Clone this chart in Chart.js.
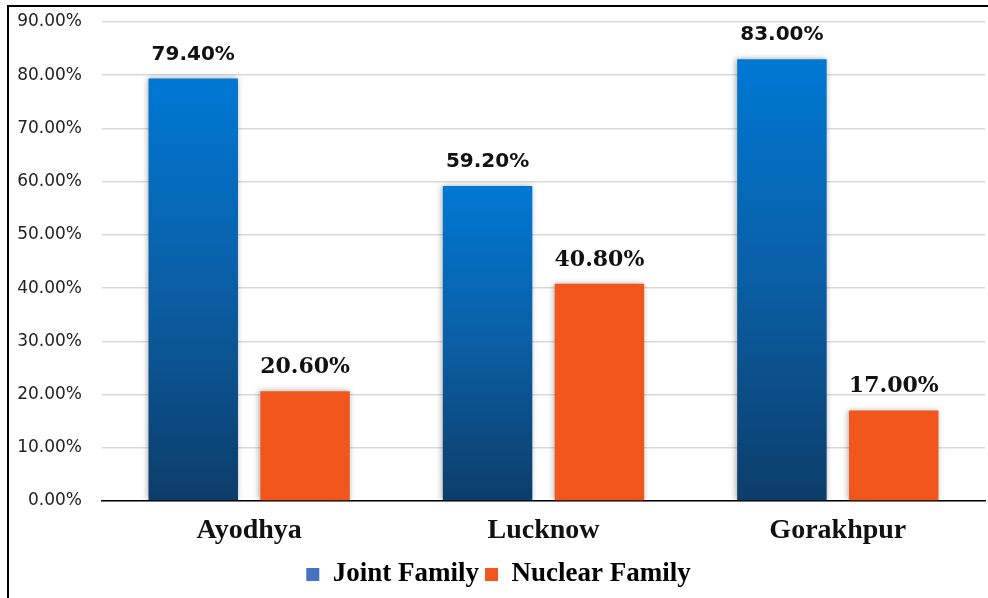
<!DOCTYPE html>
<html>
<head>
<meta charset="utf-8">
<script src="https://cdn.jsdelivr.net/npm/chart.js@4.4.1/dist/chart.umd.min.js"></script>
<style>
  html, body { margin: 0; padding: 0; background: #fff; }
  #wrap { position: relative; width: 988px; height: 598px; overflow: hidden; }
  #frame { position: absolute; left: 7px; top: 5px; width: 1000px; height: 620px;
           border-left: 2px solid #000; border-top: 2px solid #000; }
</style>
</head>
<body>
<div id="wrap">
  <canvas id="familyChart" width="988" height="598"></canvas>
  <div id="frame"></div>
</div>
<script>

    const cities = ["Ayodhya", "Lucknow", "Gorakhpur"];
    const jointFamily = [79.4, 59.2, 83.0];
    const nuclearFamily = [20.6, 40.8, 17.0];
    const yTicks = [0, 10, 20, 30, 40, 50, 60, 70, 80, 90];

    const serifBold = "'Liberation Serif', 'Times New Roman', serif";

    function blueGradient(ctx) {
        const chart = ctx.chart;
        const area = chart.chartArea;
        if (!area || ctx.type !== "data") return "#0078d4";
        const top = chart.scales.y.getPixelForValue(ctx.parsed.y);
        const g = chart.ctx.createLinearGradient(0, top, 0, area.bottom);
        g.addColorStop(0, "#0078d4");
        g.addColorStop(0.5, "#0a5ea4");
        g.addColorStop(1, "#0c3d6a");
        return g;
    }

    // bar shadow + value labels above the bars
    const barExtras = {
        id: "barExtras",
        beforeDatasetsDraw(chart) {
            const c = chart.ctx;
            c.save();
            c.shadowColor = "rgba(0,0,0,0.35)";
            c.shadowBlur = 6;
            c.shadowOffsetX = -1;
        },
        afterDatasetsDraw(chart) {
            const c = chart.ctx;
            c.restore();
            c.save();
            c.textAlign = "center";
            c.textBaseline = "middle";
            c.fillStyle = "#111";
            chart.data.datasets.forEach((ds, i) => {
                const meta = chart.getDatasetMeta(i);
                c.font = i === 0 ? "bold 20px 'DejaVu Sans', sans-serif"
                                 : "bold 22px 'DejaVu Serif', serif";
                meta.data.forEach((bar, j) => {
                    c.fillText(ds.data[j].toFixed(2) + "%", bar.x, bar.y - 24);
                });
            });
            c.restore();
        }
    };

    const chart = document.getElementById("familyChart");

    new Chart(chart, {
        type: "bar",
        data: {
            labels: cities,
            datasets: [{
                label: "Joint Family",
                data: jointFamily,
                backgroundColor: blueGradient,
                barPercentage: 0.8,
                categoryPercentage: 0.76
            }, {
                label: "Nuclear Family",
                data: nuclearFamily,
                backgroundColor: "#f1571d",
                barPercentage: 0.8,
                categoryPercentage: 0.76
            }]
        },
        options: {
            responsive: false,
            animation: false,
            layout: { padding: { left: 12, top: 22, right: 3, bottom: 0 } },
            scales: {
                y: {
                    min: 0,
                    max: 90,
                    afterFit: s => { s.width = 90; s.paddingTop = 0; s.paddingBottom = 0; },
                    afterBuildTicks: s => { s.ticks = yTicks.map(v => ({ value: v })); },
                    border: { display: false },
                    grid: { color: "#d9d9d9", lineWidth: 1.5, drawTicks: false },
                    ticks: {
                        padding: 20,
                        color: "#222",
                        font: { family: "'DejaVu Sans', sans-serif", size: 17 },
                        callback: v => v.toFixed(2) + "%"
                    }
                },
                x: {
                    afterFit: s => { s.height = 54; },
                    border: { display: true, color: "#000", width: 1.5 },
                    grid: { display: false },
                    ticks: {
                        padding: 5,
                        color: "#111",
                        font: { family: serifBold, size: 28, weight: "bold" }
                    }
                }
            },
            plugins: {
                tooltip: { enabled: false },
                legend: {
                    position: "bottom",
                    labels: {
                        color: "#111",
                        boxWidth: 13,
                        boxHeight: 13,
                        padding: 6,
                        font: { family: serifBold, size: 27, weight: "bold", lineHeight: 0.6 },
                        generateLabels: ch => ch.data.datasets.map((ds, i) => ({
                            text: ds.label,
                            fillStyle: i === 0 ? "#4672c4" : "#f1571d",
                            strokeStyle: "transparent",
                            lineWidth: 0,
                            datasetIndex: i
                        }))
                    }
                }
            }
        },
        plugins: [barExtras]
    });

</script>
</body>
</html>
